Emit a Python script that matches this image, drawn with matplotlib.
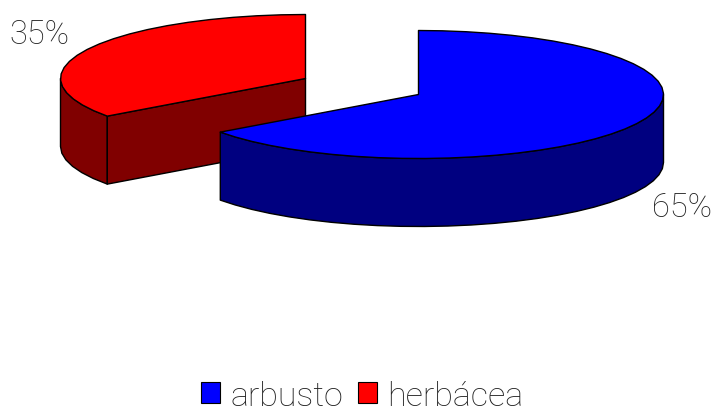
import numpy as np
import matplotlib
matplotlib.use("Agg")
import matplotlib.pyplot as plt
from matplotlib.patches import Polygon, Patch

labels = ["arbusto", "herbácea"]
shares = [65, 35]
top_colors = ["#0000ff", "#ff0000"]
side_colors = ["#000080", "#800000"]
percent_labels = ["65%", "35%"]
percent_xy = [(681.5, 208), (39.5, 35)]

# Pie geometry in figure pixels
centers = [(418.5, 95.5), (305.5, 79.5)]
RX, RY, DEPTH = 245, 64, 68


def rim(cx, cy, start, end, step=5.5):
    """Points on the ellipse rim, clockwise from 12 o'clock, angles in degrees."""
    n = max(int(abs(end - start) / step), 1)
    t = np.radians(np.linspace(start, end, n + 1))
    return np.column_stack([cx + RX * np.sin(t), cy - RY * np.cos(t)])


def extrude(edge):
    """Closed outline of the wall hanging under a top edge."""
    lower = edge[::-1] + [0, DEPTH]
    return np.vstack([edge, lower])


fig = plt.figure(figsize=(7.13, 4.14), dpi=100)
ax = fig.add_axes([0, 0, 1, 1])
ax.set_xlim(0, 713)
ax.set_ylim(414, 0)
ax.axis("off")

stops = np.cumsum([0] + shares) * 3.6
edge_style = dict(edgecolor="black", linewidth=1.0, joinstyle="round")

# The second slice sits behind the first, so it is drawn first
for i in [1, 0]:
    start, end = stops[i], stops[i + 1]
    cx, cy = centers[i]
    apex = np.array([[cx, cy]])
    start_pt = rim(cx, cy, start, start)[:1]

    if i == 1:
        # Outer wall left of the cut, then the flat cut face toward the centre
        ax.add_patch(Polygon(extrude(rim(cx, cy, start, 270)), facecolor=side_colors[i], **edge_style))
        ax.add_patch(Polygon(extrude(np.vstack([start_pt, apex])), facecolor=side_colors[i], **edge_style))
    else:
        # Only the front of the rim is visible on the large slice
        ax.add_patch(Polygon(extrude(rim(cx, cy, 90, end)), facecolor=side_colors[i], **edge_style))

    top = np.vstack([apex, rim(cx, cy, start, end)])
    ax.add_patch(Polygon(top, facecolor=top_colors[i], **edge_style))

font = dict(family="Roboto", weight="light", color="#222222")
for text, (x, y) in zip(percent_labels, percent_xy):
    ax.text(x, y, text, ha="center", va="center", fontsize=23.5, **font)

handles = [Patch(facecolor=c, edgecolor="black", linewidth=0.8) for c in top_colors]
ax.legend(
    handles, labels, loc="lower center", bbox_to_anchor=(0.508, -0.055), ncol=2,
    frameon=False, handlelength=0.57, handleheight=0.57, handletextpad=0.3,
    columnspacing=0.42, borderpad=0.2,
    prop=dict(family="Roboto", weight="light", size=24.5), labelcolor="#222222",
)

fig.savefig("out.png", dpi=100, facecolor="white")
